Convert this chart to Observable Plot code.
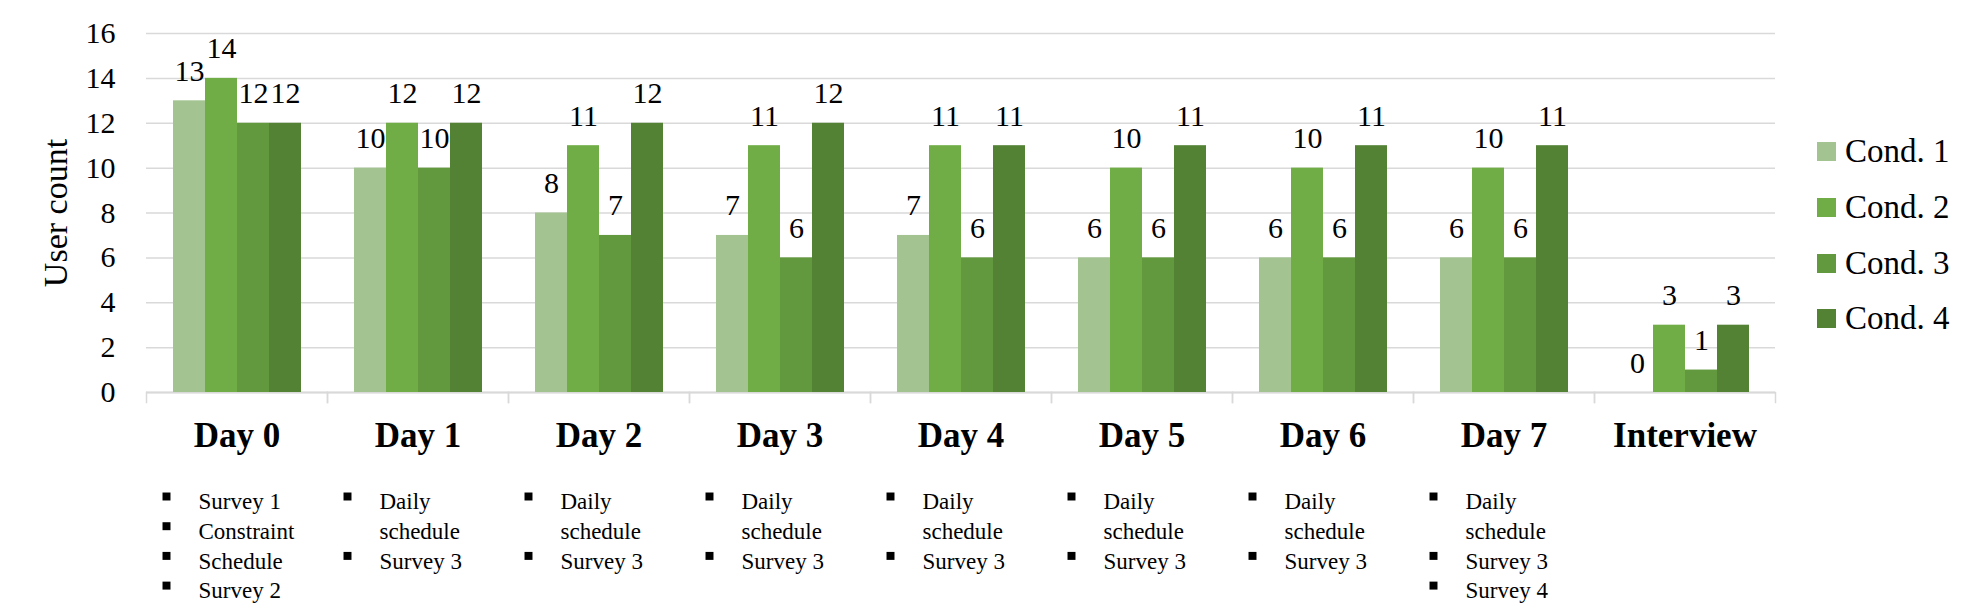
<!DOCTYPE html>
<html>
<head>
<meta charset="utf-8">
<script src="https://cdn.jsdelivr.net/npm/d3@7"></script>
<script src="https://cdn.jsdelivr.net/npm/@observablehq/plot@0.6"></script>
<style>
html, body { margin: 0; padding: 0; background: #fff; }
#wrap { position: relative; width: 1981px; height: 616px; font-family: "Liberation Serif", serif; }
#legend { position: absolute; left: 1817px; top: 124px; }
.lg-swatches { font-family: "Liberation Serif", serif !important; font-size: 33px !important; color: #000; margin: 0 !important; }
.lg-swatch { height: 55.7px; padding: 0 !important; }
.lg-swatch > svg { margin-right: 9px !important; }
#chart svg, #chart svg text { font-family: "Liberation Serif", serif; }
g[aria-label="y-axis label"] { font-size: 34px; }
</style>
</head>
<body>
<div id="wrap"><div id="chart"></div><div id="legend"></div></div>
<script>
// ---- data ----
const days = ["Day 0", "Day 1", "Day 2", "Day 3", "Day 4", "Day 5", "Day 6", "Day 7", "Interview"];
const conds = ["Cond. 1", "Cond. 2", "Cond. 3", "Cond. 4"];
const cond1 = [13, 10, 8, 7, 7, 6, 6, 6, 0];
const cond2 = [14, 12, 11, 11, 11, 10, 10, 10, 3];
const cond3 = [12, 10, 7, 6, 6, 6, 6, 6, 1];
const cond4 = [12, 12, 12, 12, 11, 11, 11, 11, 3];
const yTicks = [0, 2, 4, 6, 8, 10, 12, 14, 16];
const tasks = [
  ["Survey 1", "Constraint", "Schedule", "Survey 2"],
  ["Daily schedule", "Survey 3"],
  ["Daily schedule", "Survey 3"],
  ["Daily schedule", "Survey 3"],
  ["Daily schedule", "Survey 3"],
  ["Daily schedule", "Survey 3"],
  ["Daily schedule", "Survey 3"],
  ["Daily schedule", "Survey 3", "Survey 4"],
  []
];
const colors = ["#a3c490", "#70ad47", "#62993e", "#548235"];

// ---- derived tables ----
const series = [cond1, cond2, cond3, cond4];
const rows = days.flatMap((d, i) => conds.map((c, j) => ({day: d, cond: c, value: series[j][i]})));
const wrapItem = (t) => t.length > 11 ? t.split(" ") : [t];
const listRows = [];
const bulletRows = [];
days.forEach((d, i) => {
  const lines = [];
  tasks[i].forEach((t) => { bulletRows.push({day: d, line: lines.length}); lines.push(...wrapItem(t)); });
  listRows.push({day: d, text: lines.join("\n")});
});

// ---- layout ----
const W = 1981, H = 616, mt = 33, mb = 224, ml = 144, mr = 204;
const facetH = H - mt - mb;
const listLine = 29.7;
const listFont = 23;
const grey = "#d9d9d9";
const serif = "Liberation Serif";

const bulletMarks = [0, 1, 2, 3].map((k) =>
  Plot.dot(bulletRows.filter((b) => b.line === k), {
    fx: "day", frameAnchor: "bottom-left", dx: 20, dy: 104 + k * listLine,
    symbol: "square", r: 4.5, fill: "#000", stroke: null
  })
);

const chart = Plot.plot({
  width: W, height: H,
  marginTop: mt, marginBottom: mb, marginLeft: ml, marginRight: mr,
  style: {fontFamily: serif, fontSize: "30px", color: "#000", background: "#fff"},
  fx: {domain: days, padding: 0, label: null},
  x: {domain: conds, paddingInner: 0, paddingOuter: 0.763, axis: null},
  y: {domain: [0, 16]},
  color: {domain: conds, range: colors},
  marks: [
    Plot.gridY(yTicks, {stroke: grey, strokeOpacity: 1, strokeWidth: 1.5}),
    Plot.axisY(yTicks, {tickSize: 0, tickPadding: 31, fontSize: 30, fontFamily: serif, label: "User count", labelArrow: "none", labelAnchor: "center", labelOffset: 104}),
    Plot.axisFx({anchor: "bottom", tickSize: 0, tickPadding: 30, fontSize: 35, fontWeight: "bold", fontFamily: serif, label: null}),
    Plot.ruleY([0], {stroke: grey, strokeWidth: 2}),
    Plot.frame({anchor: "left", stroke: grey, strokeWidth: 1.5, insetTop: facetH, insetBottom: -10}),
    Plot.frame({anchor: "right", stroke: grey, strokeWidth: 1.5, insetTop: facetH, insetBottom: -10}),
    Plot.barY(rows, {fx: "day", x: "cond", y: "value", fill: "cond"}),
    Plot.text(rows, {fx: "day", x: "cond", y: "value", text: (d) => String(d.value), lineAnchor: "bottom", dy: -20, fontSize: 30, fontFamily: serif, fill: "#000"}),
    Plot.text(listRows, {fx: "day", text: "text", frameAnchor: "bottom-left", textAnchor: "start", lineAnchor: "top", dx: 52, dy: 112 - 0.71 * listFont, fontSize: listFont, fontFamily: serif, lineHeight: listLine / listFont, fill: "#000"}),
    ...bulletMarks
  ]
});
document.getElementById("chart").appendChild(chart);

const legend = Plot.legend({color: {domain: conds, range: colors}, columns: 1, swatchSize: 19, className: "lg"});
document.getElementById("legend").appendChild(legend);
</script>
</body>
</html>
